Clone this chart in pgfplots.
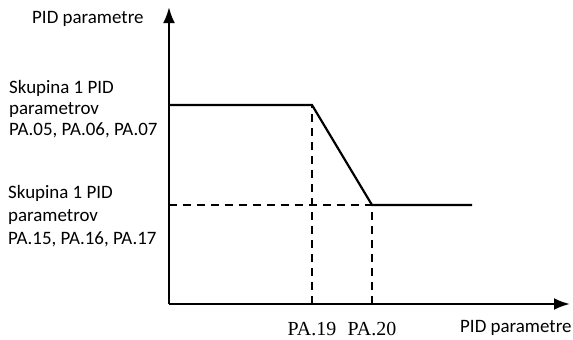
\documentclass[border=0pt]{standalone}
\usepackage{pgfplots}
\pgfplotsset{compat=1.18}
\usepackage{fontspec}
\setmainfont{Carlito}
\newfontfamily\tms{Liberation Serif}
\usetikzlibrary{arrows.meta}
\begin{document}
\begin{tikzpicture}
\begin{axis}[
  x=1bp, y=1bp,
  anchor=origin, at={(0,0)},
  axis lines=left,
  axis line style={line width=2.5bp, -{Latex[length=16bp,width=12bp]}},
  xmin=169, xmax=570, ymin=0, ymax=297,
  xtick={312,372}, xticklabels={PA.19,PA.20},
  ytick=\empty,
  major tick length=0pt,
  xticklabel style={font=\tms\fontsize{20}{23}\selectfont, anchor=base, yshift=-31bp},
  clip=false,
]
\addplot[line width=2.2bp, black] coordinates {(169,199) (312,199) (372,99) (472,99)};
\addplot[line width=1.7bp, black, dash pattern=on 8bp off 6bp] coordinates {(312,0) (312,199)};
\addplot[line width=1.7bp, black, dash pattern=on 8bp off 6bp] coordinates {(372,0) (372,99)};
\addplot[line width=1.7bp, black, dash pattern=on 8bp off 6bp] coordinates {(169,99) (372,99)};
\coordinate (bl) at (axis cs:0,-35);
\coordinate (tr) at (axis cs:573,304);
\begin{scope}[every node/.style={font=\fontsize{19}{22}\selectfont, inner sep=0pt, anchor=base west}]
\node at (axis cs:32,281) {PID parametre};
\node at (axis cs:9,211) {Skupina 1 PID};
\node at (axis cs:9,190) {parametrov};
\node at (axis cs:9,169) {PA.05, PA.06, PA.07};
\node at (axis cs:8,106) {Skupina 1 PID};
\node at (axis cs:8,83) {parametrov};
\node at (axis cs:8,60) {PA.15, PA.16, PA.17};
\node at (axis cs:460,-28) {PID parametre};
\end{scope}
\end{axis}
\pgfresetboundingbox
\path (bl) rectangle (tr);
\end{tikzpicture}
\end{document}
